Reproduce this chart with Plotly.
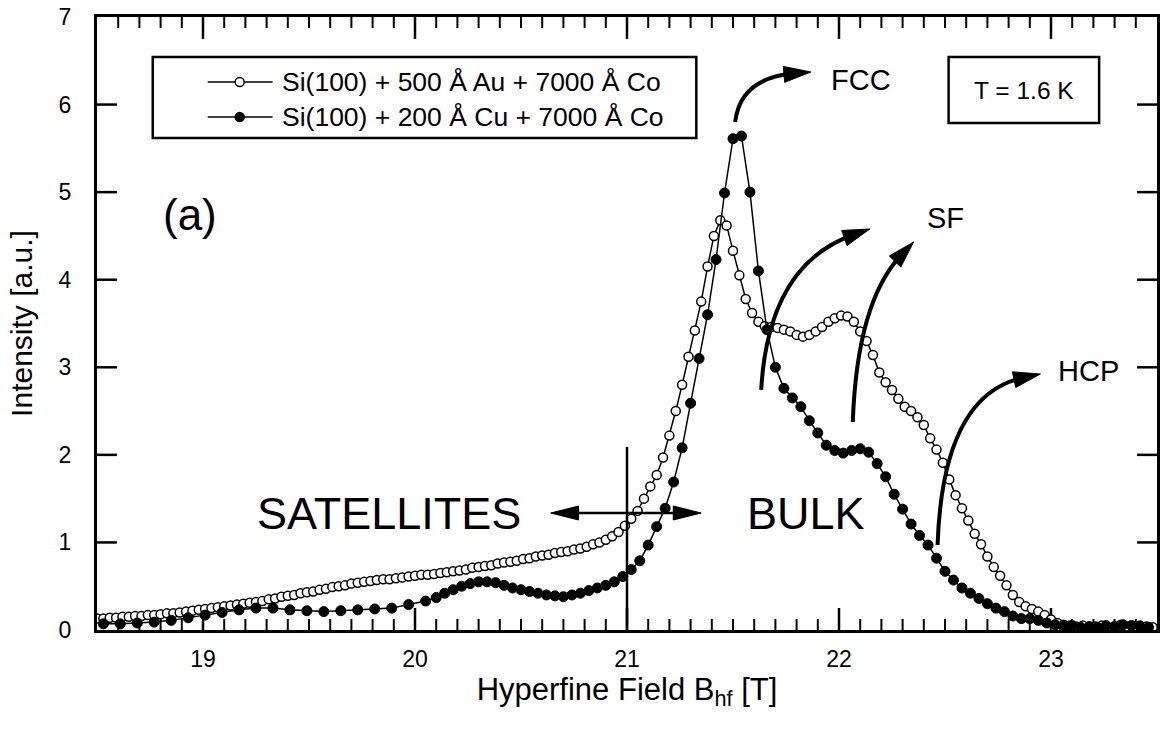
import numpy as np
import plotly.graph_objects as go

# ---- Spectra -------------------------------------------------------------
# Si(100) + 500 Å Au + 7000 Å Co : uniform 0.03 T field grid
au_field = np.round(18.50 + 0.03 * np.arange(167), 2)
au_int = [
    0.13, 0.13, 0.14, 0.14, 0.15, 0.15, 0.16, 0.16, 0.17, 0.17,
    0.18, 0.19, 0.19, 0.20, 0.21, 0.22, 0.23, 0.24, 0.25, 0.26,
    0.27, 0.28, 0.29, 0.30, 0.31, 0.32, 0.33, 0.35, 0.36, 0.38,
    0.39, 0.40, 0.42, 0.43, 0.44, 0.46, 0.47, 0.49, 0.50, 0.51,
    0.53, 0.54, 0.55, 0.56, 0.57, 0.58, 0.58, 0.59, 0.60, 0.61,
    0.62, 0.63, 0.63, 0.64, 0.65, 0.66, 0.67, 0.68, 0.69, 0.71,
    0.72, 0.73, 0.74, 0.76, 0.77, 0.78, 0.79, 0.81, 0.82, 0.84,
    0.85, 0.86, 0.88, 0.89, 0.90, 0.92, 0.93, 0.95, 0.98, 1.00,
    1.03, 1.07, 1.12, 1.19, 1.27, 1.36, 1.50, 1.64, 1.77, 1.97,
    2.22, 2.50, 2.80, 3.12, 3.42, 3.75, 4.15, 4.50, 4.68, 4.62,
    4.33, 4.05, 3.78, 3.62, 3.52, 3.47, 3.46, 3.45, 3.43, 3.41,
    3.37, 3.35, 3.37, 3.41, 3.46, 3.52, 3.56, 3.59, 3.58, 3.52,
    3.41, 3.30, 3.14, 2.94, 2.83, 2.74, 2.64, 2.55, 2.50, 2.43,
    2.34, 2.19, 2.06, 1.91, 1.72, 1.54, 1.39, 1.25, 1.10, 0.98,
    0.84, 0.72, 0.62, 0.51, 0.40, 0.32, 0.27, 0.24, 0.21, 0.17,
    0.12, 0.08, 0.06, 0.05, 0.04, 0.05, 0.03, 0.04, 0.05, 0.03,
    0.04, 0.06, 0.04, 0.03, 0.05, 0.04, 0.03,
]

# Si(100) + 200 Å Cu + 7000 Å Co : coarse steps at low field, finer near the lines
cu_field = [
    18.53, 18.61, 18.69, 18.77, 18.85, 18.93, 19.01, 19.09, 19.17, 19.25,
    19.33, 19.41, 19.49, 19.57, 19.65, 19.73, 19.81, 19.89, 19.97, 20.05,
    20.10, 20.14, 20.18, 20.22, 20.26, 20.30, 20.34, 20.38, 20.42, 20.46,
    20.50, 20.54, 20.58, 20.62, 20.66, 20.70, 20.74, 20.78, 20.82, 20.86,
    20.90, 20.94, 20.98, 21.02, 21.06, 21.10, 21.14, 21.18, 21.22, 21.26,
    21.30, 21.34, 21.38, 21.42, 21.46, 21.50, 21.54, 21.58, 21.62, 21.66,
    21.70, 21.74, 21.78, 21.82, 21.86, 21.90, 21.94, 21.98, 22.02, 22.06,
    22.10, 22.14, 22.18, 22.22, 22.26, 22.30, 22.34, 22.38, 22.42, 22.46,
    22.50, 22.54, 22.58, 22.62, 22.66, 22.70, 22.74, 22.78, 22.82, 22.86,
    22.90, 22.94, 22.98, 23.02, 23.06, 23.10, 23.14, 23.18, 23.22, 23.26,
    23.30, 23.34, 23.38, 23.42, 23.46,
]
cu_int = [
    0.07, 0.07, 0.08, 0.09, 0.11, 0.14, 0.17, 0.20, 0.23, 0.25,
    0.25, 0.23, 0.22, 0.21, 0.22, 0.23, 0.24, 0.25, 0.29, 0.33,
    0.37, 0.42, 0.46, 0.50, 0.53, 0.55, 0.55, 0.54, 0.51, 0.48,
    0.46, 0.44, 0.42, 0.40, 0.39, 0.38, 0.40, 0.42, 0.45, 0.48,
    0.51, 0.55, 0.61, 0.69, 0.79, 0.97, 1.18, 1.39, 1.69, 2.08,
    2.59, 3.10, 3.60, 4.23, 4.99, 5.61, 5.64, 5.00, 4.10, 3.43,
    3.00, 2.76, 2.65, 2.55, 2.39, 2.25, 2.11, 2.05, 2.02, 2.05,
    2.07, 2.03, 1.90, 1.75, 1.55, 1.38, 1.21, 1.08, 0.97, 0.82,
    0.67, 0.57, 0.48, 0.42, 0.36, 0.30, 0.25, 0.21, 0.16, 0.13,
    0.13, 0.11, 0.08, 0.06, 0.04, 0.05, 0.03, 0.04, 0.03, 0.05,
    0.04, 0.06, 0.05, 0.04, 0.03,
]

au_label = "Si(100) + 500 Å Au + 7000 Å Co"
cu_label = "Si(100) + 200 Å Cu + 7000 Å Co"

X_RANGE = [18.5, 23.5]
Y_RANGE = [0, 7]
x_major = [19, 20, 21, 22, 23]
y_major = [0, 1, 2, 3, 4, 5, 6, 7]
x_minor_step = 0.1

FONT = "Liberation Sans, Arial, Helvetica, sans-serif"
W, H = 1163, 739
M = dict(l=97, r=3, t=17, b=109)
PX = (W - M["l"] - M["r"]) / (X_RANGE[1] - X_RANGE[0])   # px per tesla
PY = (H - M["t"] - M["b"]) / (Y_RANGE[1] - Y_RANGE[0])   # px per unit intensity

fig = go.Figure()

# ---- Inward tick marks on all four sides, drawn as line segments ---------
major_x, major_y, minor_x, minor_y = [], [], [], []
n_minor = int(round((X_RANGE[1] - X_RANGE[0]) / x_minor_step))
for i in range(1, n_minor):
    xv = round(X_RANGE[0] + i * x_minor_step, 1)
    is_major = any(abs(xv - m) < 1e-6 for m in x_major)
    tx, ty = (major_x, major_y) if is_major else (minor_x, minor_y)
    dy = (22 if is_major else 11) / PY
    tx += [xv, xv, None, xv, xv, None]
    ty += [Y_RANGE[0], Y_RANGE[0] + dy, None, Y_RANGE[1], Y_RANGE[1] - dy, None]
dx = 20 / PX
for yv in y_major[1:-1]:
    major_x += [X_RANGE[0], X_RANGE[0] + dx, None, X_RANGE[1], X_RANGE[1] - dx, None]
    major_y += [yv, yv, None, yv, yv, None]

fig.add_trace(go.Scatter(x=minor_x, y=minor_y, mode="lines",
                         line=dict(color="black", width=2),
                         hoverinfo="skip", showlegend=False, cliponaxis=False))
fig.add_trace(go.Scatter(x=major_x, y=major_y, mode="lines",
                         line=dict(color="black", width=2.5),
                         hoverinfo="skip", showlegend=False, cliponaxis=False))

# ---- The two spectra ------------------------------------------------------
fig.add_trace(go.Scatter(
    x=au_field, y=au_int, mode="lines+markers", name=au_label,
    line=dict(color="black", width=1.5),
    marker=dict(symbol="circle", size=9, color="white",
                line=dict(color="black", width=1.5)),
    showlegend=False,
))
fig.add_trace(go.Scatter(
    x=cu_field, y=cu_int, mode="lines+markers", name=cu_label,
    line=dict(color="black", width=1.5),
    marker=dict(symbol="circle", size=10, color="black",
                line=dict(color="black", width=1)),
    showlegend=False,
))

shapes = []


# ---- Arrow helpers (data coordinates, head shaped in pixel space) --------
def head_points(tip, frm, length=27, width=16):
    ddx = (tip[0] - frm[0]) * PX
    ddy = (tip[1] - frm[1]) * PY
    n = np.hypot(ddx, ddy)
    ux, uy = ddx / n, ddy / n
    bx = tip[0] * PX - ux * length
    by = tip[1] * PY - uy * length
    px_, py_ = -uy * width / 2, ux * width / 2
    b1 = ((bx + px_) / PX, (by + py_) / PY)
    b2 = ((bx - px_) / PX, (by - py_) / PY)
    base = (bx / PX, by / PY)
    return b1, b2, base


def head_shape(tip, frm, **kw):
    b1, b2, _ = head_points(tip, frm, **kw)
    path = (f"M {tip[0]:.4f},{tip[1]:.4f} L {b1[0]:.4f},{b1[1]:.4f} "
            f"L {b2[0]:.4f},{b2[1]:.4f} Z")
    return dict(type="path", path=path, xref="x", yref="y",
                fillcolor="black", line=dict(color="black", width=1))


def curved_arrow(p0, ctrl, tip):
    _, _, inner = head_points(tip, ctrl, length=18)
    shapes.append(dict(
        type="path", xref="x", yref="y",
        path=(f"M {p0[0]:.4f},{p0[1]:.4f} Q {ctrl[0]:.4f},{ctrl[1]:.4f} "
              f"{inner[0]:.4f},{inner[1]:.4f}"),
        line=dict(color="black", width=4),
    ))
    shapes.append(head_shape(tip, ctrl))


# FCC, SF (two), HCP arrows
curved_arrow((21.510, 5.80), (21.534, 6.30), (21.867, 6.372))
curved_arrow((21.633, 2.741), (21.666, 4.168), (22.145, 4.579))
curved_arrow((22.065, 2.375), (22.085, 3.750), (22.352, 4.431))
curved_arrow((22.465, 0.971), (22.489, 2.684), (22.950, 2.923))

# Satellite / bulk boundary and double-headed arrow
boundary = 21.0
shapes.append(dict(type="line", xref="x", yref="y", x0=boundary, x1=boundary,
                   y0=0, y1=2.09, line=dict(color="black", width=2.5)))
arr_y = 1.336
left_tip, right_tip = (20.64, arr_y), (21.35, arr_y)
shapes.append(dict(type="line", xref="x", yref="y", x0=left_tip[0] + 0.05,
                   x1=right_tip[0] - 0.05, y0=arr_y, y1=arr_y,
                   line=dict(color="black", width=2.5)))
shapes.append(head_shape(left_tip, right_tip, length=28, width=14))
shapes.append(head_shape(right_tip, left_tip, length=28, width=14))

# ---- Legend box and temperature box -------------------------------------
shapes.append(dict(type="rect", xref="x", yref="y",
                   x0=18.763, x1=21.327, y0=5.618, y1=6.543,
                   line=dict(color="black", width=2.5)))
shapes.append(dict(type="rect", xref="x", yref="y",
                   x0=22.517, x1=23.227, y0=5.790, y1=6.543,
                   line=dict(color="black", width=2.5)))

legend_rows = [(6.258, "white", au_label), (5.858, "black", cu_label)]
annotations = []
for ry, fill, label in legend_rows:
    shapes.append(dict(type="line", xref="x", yref="y",
                       x0=19.022, x1=19.328, y0=ry, y1=ry,
                       line=dict(color="black", width=1.5)))
    shapes.append(dict(type="circle", xref="x", yref="y",
                       xsizemode="pixel", ysizemode="pixel",
                       xanchor=19.173, yanchor=ry,
                       x0=-4.5, x1=4.5, y0=-4.5, y1=4.5,
                       fillcolor=fill, line=dict(color="black", width=1.5)))
    annotations.append(dict(x=19.361, y=ry, xanchor="left", yanchor="middle",
                            showarrow=False, text=label,
                            font=dict(size=26.5, color="black")))

annotations += [
    dict(x=22.874, y=6.166, text="T = 1.6 K", xanchor="center",
         yanchor="middle", showarrow=False, font=dict(size=24.5)),
    dict(x=18.937, y=4.74, text="(a)", showarrow=False, font=dict(size=44)),
    dict(x=22.103, y=6.28, text="FCC", showarrow=False, font=dict(size=29)),
    dict(x=22.503, y=4.70, text="SF", showarrow=False, font=dict(size=29)),
    dict(x=23.175, y=2.96, text="HCP", showarrow=False, font=dict(size=29)),
    dict(x=19.878, y=1.336, text="SATELLITES", showarrow=False,
         font=dict(size=45)),
    dict(x=21.844, y=1.325, text="BULK", showarrow=False, font=dict(size=45)),
]

axis_common = dict(
    showline=True, linecolor="black", linewidth=3, mirror=True,
    ticks="", showgrid=False, zeroline=False,
    tickfont=dict(size=23, color="black"), tickmode="array",
)

fig.update_layout(
    width=W, height=H, margin=M,
    paper_bgcolor="white", plot_bgcolor="white",
    font=dict(family=FONT, color="black"),
    shapes=shapes, annotations=annotations,
    xaxis=dict(
        range=X_RANGE, tickvals=x_major, ticklabelstandoff=6,
        title=dict(text="Hyperfine Field B<sub>hf</sub> [T]",
                   font=dict(size=31), standoff=6),
        **axis_common,
    ),
    yaxis=dict(
        range=Y_RANGE, tickvals=y_major, ticklabelstandoff=18,
        title=dict(text="Intensity [a.u.]", font=dict(size=30), standoff=18),
        **axis_common,
    ),
)

fig.write_html("out.html")
